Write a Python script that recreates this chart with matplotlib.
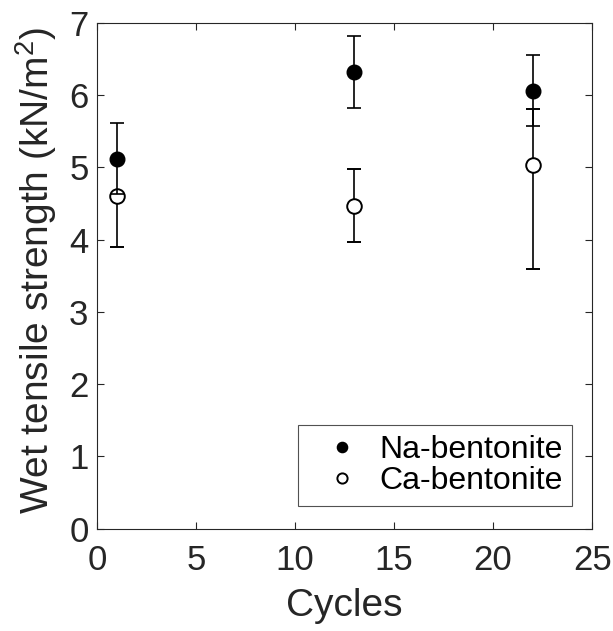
import matplotlib
matplotlib.use("Agg")
import matplotlib.pyplot as plt

plt.rcParams["font.family"] = ["Liberation Sans", "DejaVu Sans"]
plt.rcParams["mathtext.fontset"] = "custom"
plt.rcParams["mathtext.rm"] = "Liberation Sans"

cycles = [1, 13, 22]

na_strength = [5.12, 6.32, 6.06]
na_err_low = [0.49, 0.50, 0.49]
na_err_high = [0.49, 0.50, 0.49]

ca_strength = [4.61, 4.47, 5.03]
ca_err_low = [0.71, 0.50, 1.44]
ca_err_high = [0.00, 0.50, 0.77]

axis_grey = "#262626"

fig = plt.figure(figsize=(6.13, 6.31), dpi=100)
ax = fig.add_axes([0.158, 0.162, 0.808, 0.802])

# Ca series first so the Na error bar shows across the open marker
ca = ax.errorbar(cycles, ca_strength, yerr=[ca_err_low, ca_err_high], fmt="o",
                 color="black", markerfacecolor="white", markeredgecolor="black",
                 markeredgewidth=1.4, markersize=10.5, elinewidth=1.2, capsize=5,
                 capthick=1.2, label="Ca-bentonite", zorder=3)
na = ax.errorbar(cycles, na_strength, yerr=[na_err_low, na_err_high], fmt="o",
                 color="black", markerfacecolor="black", markeredgecolor="black",
                 markersize=10.5, elinewidth=1.2, capsize=5, capthick=1.2,
                 label="Na-bentonite", zorder=4)

ax.set_xlim(0, 25)
ax.set_ylim(0, 7)
ax.set_xticks([0, 5, 10, 15, 20, 25])
ax.set_yticks(range(0, 8))

ax.tick_params(direction="in", length=5, width=0.8, colors=axis_grey,
               labelsize=25, labelcolor="#262626", top=True, right=True, pad=6)
ax.tick_params(axis="x", pad=11)
for sp in ax.spines.values():
    sp.set_color(axis_grey)
    sp.set_linewidth(0.8)

ax.set_xlabel("Cycles", fontsize=28, color="#262626", labelpad=8)
ax.set_ylabel("Wet tensile strength (kN/m$^2$)", fontsize=28, color="#262626")
ax.yaxis.set_label_coords(-0.076, 0.51)

leg = ax.legend([na[0], ca[0]], ["Na-bentonite", "Ca-bentonite"],
                loc="lower right", fontsize=23, frameon=True,
                fancybox=False, edgecolor=axis_grey, markerscale=0.7,
                handlelength=2.2, handletextpad=0.06, borderpad=0.3,
                labelspacing=0.05, borderaxespad=0,
                bbox_to_anchor=(0.96, 0.045))
leg.get_frame().set_linewidth(0.8)

fig.savefig("out.png", dpi=100)
